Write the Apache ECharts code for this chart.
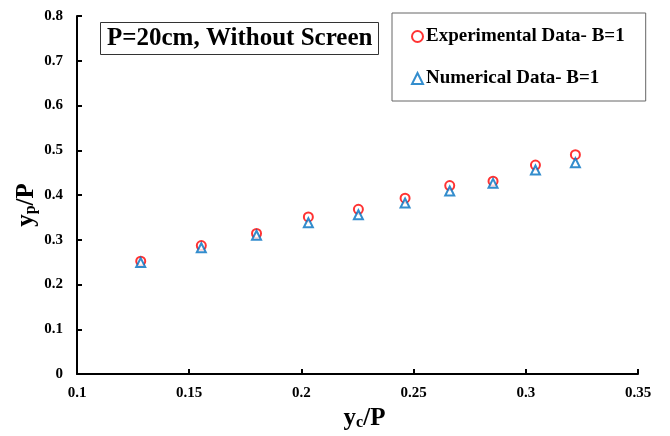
<!DOCTYPE html>
<html>
<head>
<meta charset="utf-8">
<script src="https://cdn.jsdelivr.net/npm/echarts@6/dist/echarts.min.js"></script>
<style>
    html, body { margin: 0; padding: 0; background: #fff; }
    #chart { width: 670px; height: 436px; }
</style>
</head>
<body>
<div id="chart"></div>
<script>
    // yc/P values (x) shared by both series
    var ycP = [0.1284, 0.1554, 0.1800, 0.2031, 0.2254, 0.2462, 0.2661, 0.2854, 0.3043, 0.3221];
    // yp/P values
    var expData = [0.252, 0.287, 0.314, 0.351, 0.368, 0.393, 0.421, 0.431, 0.467, 0.490];
    var numData = [0.249, 0.282, 0.310, 0.338, 0.356, 0.382, 0.409, 0.426, 0.456, 0.472];
    var xTicks = ['0.1', '0.15', '0.2', '0.25', '0.3', '0.35'];
    var yTicks = ['0', '0.1', '0.2', '0.3', '0.4', '0.5', '0.6', '0.7', '0.8'];

    var font = '"Liberation Serif", "Times New Roman", serif';

    function pairs(xs, ys) {
        var out = [];
        for (var i = 0; i < xs.length; i++) {
            out.push([xs[i], ys[i]]);
        }
        return out;
    }

    // rich text for axis names with subscript
    var nameRich = {
        b: { fontFamily: font, fontWeight: 'bold', fontSize: 25, color: '#000' },
        s: { fontFamily: font, fontWeight: 'bold', fontSize: 16, color: '#000', verticalAlign: 'bottom', padding: [9, 0, 0, 0] }
    };

    var chart = echarts.init(document.getElementById('chart'));
    var option = {
        backgroundColor: '#fff',
        animation: false,
        title: {
            text: 'P=20cm, Without Screen',
            left: 100,
            top: 22,
            padding: [4, 6, 4, 7],
            borderWidth: 1,
            borderColor: '#333',
            textStyle: {
                fontFamily: font,
                fontWeight: 'bold',
                fontSize: 25,
                color: '#000',
                lineHeight: 25
            }
        },
        legend: {
            orient: 'vertical',
            left: 392,
            top: 13,
            padding: [14, 21, 13, 19],
            itemGap: 23,
            itemWidth: 11,
            itemHeight: 11,
            borderWidth: 1,
            borderColor: '#666',
            textStyle: {
                fontFamily: font,
                fontWeight: 'bold',
                fontSize: 19,
                lineHeight: 19,
                color: '#000',
                padding: [0, 0, 0, -2]
            },
            data: ['Experimental Data- B=1', 'Numerical Data- B=1']
        },
        grid: {
            left: 77,
            right: 32,
            top: 16,
            bottom: 60,
            containLabel: false
        },
        xAxis: {
            type: 'value',
            min: 0.1,
            max: 0.35,
            interval: 0.05,
            name: '{b|y}{s|c}{b|/P}',
            nameLocation: 'middle',
            nameGap: 32,
            nameMoveOverlap: false,
            nameTextStyle: {
                padding: [0, 0, 0, 14],
                rich: nameRich
            },
            axisLine: { lineStyle: { color: '#000', width: 2 } },
            axisTick: { inside: true, length: 5, lineStyle: { color: '#000', width: 2 } },
            axisLabel: {
                margin: 12,
                fontFamily: font,
                fontWeight: 'bold',
                fontSize: 15,
                color: '#000',
                formatter: function (v) {
                    return xTicks[Math.round((v - 0.1) / 0.05)];
                }
            },
            splitLine: { show: false }
        },
        yAxis: {
            type: 'value',
            min: 0,
            max: 0.8,
            interval: 0.1,
            name: '{b|y}{s|p}{b|/P}',
            nameLocation: 'middle',
            nameRotate: 90,
            nameGap: 38,
            nameMoveOverlap: false,
            nameTextStyle: {
                padding: [0, 20, 0, 0],
                rich: nameRich
            },
            axisLine: { show: true, lineStyle: { color: '#000', width: 2 } },
            axisTick: { show: true, inside: true, length: 5, lineStyle: { color: '#000', width: 2 } },
            axisLabel: {
                margin: 14,
                fontFamily: font,
                fontWeight: 'bold',
                fontSize: 15,
                color: '#000',
                formatter: function (v) {
                    return yTicks[Math.round(v * 10)];
                }
            },
            splitLine: { show: false }
        },
        series: [
            {
                name: 'Experimental Data- B=1',
                type: 'scatter',
                symbol: 'circle',
                symbolSize: 9,
                itemStyle: { color: '#fff', borderColor: '#FF0000', borderWidth: 2 },
                data: pairs(ycP, expData)
            },
            {
                name: 'Numerical Data- B=1',
                type: 'scatter',
                symbol: 'triangle',
                symbolSize: 9,
                itemStyle: { color: '#fff', borderColor: '#0070C0', borderWidth: 2 },
                data: pairs(ycP, numData)
            }
        ]
    };
    chart.setOption(option);
</script>
</body>
</html>
